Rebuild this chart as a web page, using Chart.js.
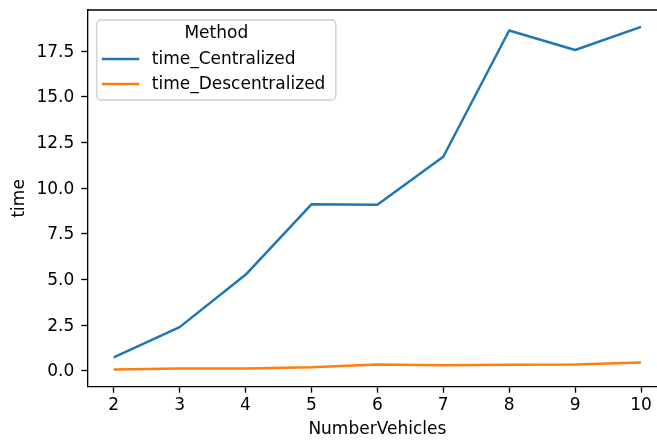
<!DOCTYPE html>
<html>
<head>
<meta charset="utf-8">
<script src="https://cdn.jsdelivr.net/npm/chart.js@4/dist/chart.umd.min.js"></script>
<style>
  html, body { margin: 0; padding: 0; background: #fff; overflow: hidden; }
  #wrap { width: 657px; height: 440px; overflow: hidden; }
  canvas { display: block; }
</style>
</head>
<body>
<div id="wrap"><canvas id="chart" width="670" height="440"></canvas></div>
<script>
// Number of vehicles on the x axis
const numberVehicles = [2, 3, 4, 5, 6, 7, 8, 9, 10];
// Run time per method
const timeCentralized = [0.74, 2.40, 5.26, 9.12, 9.10, 11.72, 18.63, 17.56, 18.83];
const timeDescentralized = [0.08, 0.14, 0.14, 0.20, 0.36, 0.31, 0.34, 0.36, 0.46];
const seriesNames = ['time_Centralized', 'time_Descentralized'];
const seriesColors = ['#1f77b4', '#ff7f0e'];
const yTicks = [0, 2.5, 5, 7.5, 10, 12.5, 15, 17.5];
const legendTitle = 'Method';

const FONT = 'DejaVu Sans';
const FS = 17;

const toPoints = (vals) => numberVehicles.map((x, i) => ({ x, y: vals[i] }));

// Legend box with title, drawn inside the plot area (upper left)
const insideLegend = {
  id: 'insideLegend',
  afterDatasetsDraw(chart) {
    const ctx = chart.ctx;
    const a = chart.chartArea;
    const x0 = a.left + 9.5, y0 = a.top + 10, w = 239, h = 80, r = 4;
    ctx.save();
    ctx.beginPath();
    ctx.moveTo(x0 + r, y0);
    ctx.arcTo(x0 + w, y0, x0 + w, y0 + h, r);
    ctx.arcTo(x0 + w, y0 + h, x0, y0 + h, r);
    ctx.arcTo(x0, y0 + h, x0, y0, r);
    ctx.arcTo(x0, y0, x0 + w, y0, r);
    ctx.closePath();
    ctx.fillStyle = 'rgba(255,255,255,0.8)';
    ctx.fill();
    ctx.strokeStyle = '#cccccc';
    ctx.lineWidth = 1.3;
    ctx.stroke();

    ctx.font = FS + 'px "' + FONT + '"';
    ctx.fillStyle = '#000';
    ctx.textBaseline = 'middle';
    ctx.textAlign = 'center';
    ctx.fillText(legendTitle, x0 + 119.5, y0 + 13.5);

    ctx.textAlign = 'left';
    chart.data.datasets.forEach((ds, i) => {
      const yy = y0 + 39 + i * 25;
      ctx.beginPath();
      ctx.moveTo(x0 + 5, yy);
      ctx.lineTo(x0 + 42.5, yy);
      ctx.strokeStyle = ds.borderColor;
      ctx.lineWidth = 2.5;
      ctx.stroke();
      ctx.fillText(ds.label, x0 + 55, yy + 0.5);
    });
    ctx.restore();
  }
};

// Top spine of the axes frame
const topSpine = {
  id: 'topSpine',
  afterDraw(chart) {
    const ctx = chart.ctx;
    const a = chart.chartArea;
    ctx.save();
    ctx.beginPath();
    ctx.moveTo(a.left, a.top);
    ctx.lineTo(a.right + 1, a.top);
    ctx.strokeStyle = '#000';
    ctx.lineWidth = 1.33;
    ctx.stroke();
    ctx.restore();
  }
};

const noEdgePadding = (s) => { s.paddingTop = 0; s.paddingBottom = 0; s.paddingLeft = 0; s.paddingRight = 0; };

new Chart(document.getElementById('chart'), {
  type: 'line',
  data: {
    datasets: [
      { label: seriesNames[0], data: toPoints(timeCentralized), borderColor: seriesColors[0], backgroundColor: seriesColors[0] },
      { label: seriesNames[1], data: toPoints(timeDescentralized), borderColor: seriesColors[1], backgroundColor: seriesColors[1] }
    ]
  },
  options: {
    responsive: false,
    animation: false,
    devicePixelRatio: 1,
    layout: { padding: { left: 0, top: 10, right: 2.6, bottom: 0 } },
    elements: {
      line: { borderWidth: 2.5, tension: 0, borderCapStyle: 'butt', borderJoinStyle: 'round' },
      point: { radius: 0, hoverRadius: 0 }
    },
    plugins: { legend: { display: false }, tooltip: { enabled: false } },
    scales: {
      x: {
        type: 'linear',
        min: 1.6,
        max: 10.4,
        afterBuildTicks: (s) => { s.ticks = numberVehicles.map(v => ({ value: v })); },
        afterFit: (s) => { s.height = 53.3; noEdgePadding(s); },
        grid: { drawOnChartArea: false, drawTicks: true, tickLength: 6, tickWidth: 1.33, tickColor: '#000' },
        border: { display: true, color: '#000', width: 1.33 },
        ticks: { color: '#000', font: { family: FONT, size: FS }, padding: 3, maxRotation: 0, autoSkip: false },
        title: { display: true, text: 'NumberVehicles', color: '#000', font: { family: FONT, size: FS }, padding: { top: 0, bottom: 0 } }
      },
      y: {
        type: 'linear',
        min: -0.86,
        max: 19.75,
        afterBuildTicks: (s) => { s.ticks = yTicks.map(v => ({ value: v })); },
        afterFit: (s) => { s.width = 87.3; noEdgePadding(s); },
        grid: { drawOnChartArea: false, drawTicks: true, tickLength: 6, tickWidth: 1.33, tickColor: '#000' },
        border: { display: true, color: '#000', width: 1.33 },
        ticks: { color: '#000', font: { family: FONT, size: FS }, padding: 7, labelOffset: 1, callback: (v) => Number(v).toFixed(1) },
        title: { display: true, text: 'time', color: '#000', font: { family: FONT, size: FS }, padding: { top: 9, bottom: 0 } }
      }
    }
  },
  plugins: [insideLegend, topSpine]
});
</script>
</body>
</html>
